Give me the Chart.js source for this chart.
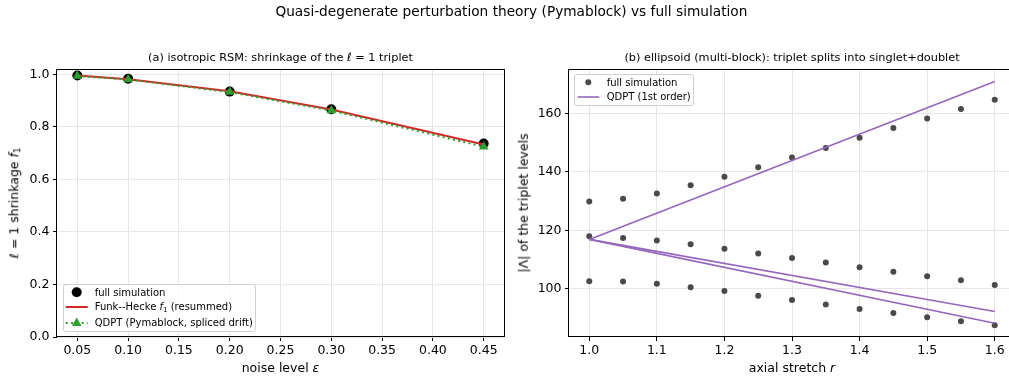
<!DOCTYPE html>
<html><head><meta charset="utf-8">
<script src="https://cdn.jsdelivr.net/npm/chart.js@4.4.0/dist/chart.umd.min.js"></script>
<style>
html,body{margin:0;padding:0;}
body{width:1009px;height:377px;position:relative;background:#fff;font-family:"DejaVu Sans",sans-serif;overflow:hidden;}
.t{position:absolute;white-space:nowrap;color:#000;line-height:1;}
.c{transform:translateX(-50%);}
.yl{transform:translate(-50%,-50%) rotate(-90deg);}
.leg{position:absolute;border:1px solid #cfcfcf;border-radius:3px;background:rgba(255,255,255,0.8);box-sizing:border-box;}
.lt{position:absolute;white-space:nowrap;font-size:10px;line-height:10px;color:#000;}
svg{position:absolute;left:0;top:0;overflow:visible;}
canvas{position:absolute;}
</style></head><body>
<canvas id="c1" width="510" height="377" style="left:0;top:0"></canvas>
<canvas id="c2" width="520" height="377" style="left:510px;top:0"></canvas>

<div class="t c" style="left:511.4px;top:5px;font-size:13.7px;">Quasi-degenerate perturbation theory (Pymablock) vs full simulation</div>
<div class="t c" style="left:280.5px;top:52px;font-size:11.3px;">(a) isotropic RSM: shrinkage of the <i>ℓ</i> = 1 triplet</div>
<div class="t c" style="left:792px;top:52px;font-size:11.3px;">(b) ellipsoid (multi-block): triplet splits into singlet+doublet</div>
<div class="t c" style="left:280.5px;top:361.5px;font-size:12.5px;">noise level <i>ε</i></div>
<div class="t c" style="left:792px;top:361.5px;font-size:12.5px;">axial stretch <i>r</i></div>
<div class="t yl" style="left:15px;top:203px;font-size:12.5px;"><i>ℓ</i> = 1 shrinkage <i>f</i><sub style="font-size:8.5px;vertical-align:-2px">1</sub></div>
<div class="t yl" style="left:524px;top:203px;font-size:12.5px;">|Λ| of the triplet levels</div>

<div class="leg" style="left:62.7px;top:284px;width:193.3px;height:48px;"></div>
<svg width="1009" height="377">
  <circle cx="76.7" cy="292.3" r="5" fill="#000"/>
  <line x1="65.7" y1="307" x2="87.7" y2="307" stroke="#d62728" stroke-width="2"/>
  <line x1="65.7" y1="323" x2="87.7" y2="323" stroke="#2ca02c" stroke-width="2" stroke-dasharray="2,3.3"/>
  <polygon points="76.7,317.5 81.5,326 71.9,326" fill="#2ca02c"/>
</svg>
<div class="lt" style="left:94.7px;top:287.5px;">full simulation</div>
<div class="lt" style="left:94.7px;top:302px;">Funk--Hecke <i>f</i><sub style="font-size:7px;vertical-align:-2px">1</sub> (resummed)</div>
<div class="lt" style="left:94.7px;top:318px;">QDPT (Pymablock, spliced drift)</div>

<div class="leg" style="left:574.3px;top:74.3px;width:119.7px;height:32px;"></div>
<svg width="1009" height="377">
  <circle cx="588.3" cy="82.3" r="3" fill="#4a4a4a"/>
  <line x1="577.7" y1="97" x2="599.3" y2="97" stroke="#9467bd" stroke-width="1.6"/>
</svg>
<div class="lt" style="left:606.7px;top:77.5px;">full simulation</div>
<div class="lt" style="left:606.7px;top:92px;">QDPT (1st order)</div>

<script>
// ---- panel (a) data ----
const noiseLevels = [0.05, 0.10, 0.20, 0.30, 0.45];
const shrinkSim = [0.995, 0.983, 0.934, 0.867, 0.736];
const shrinkFunkHecke = [0.995, 0.981, 0.935, 0.866, 0.733];
const shrinkQdpt = [0.993, 0.980, 0.932, 0.862, 0.724];
const xTicksA = [0.05, 0.10, 0.15, 0.20, 0.25, 0.30, 0.35, 0.40, 0.45];
const yTicksA = [0.0, 0.2, 0.4, 0.6, 0.8, 1.0];

// ---- panel (b) data ----
const stretch = [1.00, 1.05, 1.10, 1.15, 1.20, 1.25, 1.30, 1.35, 1.40, 1.45, 1.50, 1.55, 1.60];
const simUpper = [129.9, 130.8, 132.6, 135.4, 138.3, 141.6, 144.9, 148.2, 151.7, 155.0, 158.3, 161.5, 164.7];
const simMiddle = [118.0, 117.4, 116.5, 115.2, 113.7, 112.1, 110.5, 109.0, 107.4, 105.8, 104.3, 102.9, 101.3];
const simLower = [102.6, 102.5, 101.7, 100.5, 99.2, 97.6, 96.2, 94.6, 93.1, 91.7, 90.3, 88.9, 87.5];
const qdptStretch = [1.0, 1.6];
const qdptSinglet = [116.9, 170.95];
const qdptDoubletA = [116.9, 92.2];
const qdptDoubletB = [116.9, 88.2];
const xTicksB = [1.0, 1.1, 1.2, 1.3, 1.4, 1.5, 1.6];
const yTicksB = [100, 120, 140, 160];

const pts = (xs, ys) => xs.map((x, i) => ({x: x, y: ys[i]}));

const framePlugin = {
  id: 'frame',
  beforeDatasetsDraw(chart) {
    const {ctx, chartArea: a} = chart;
    ctx.save();
    ctx.strokeStyle = '#000';
    ctx.lineWidth = 1;
    ctx.strokeRect(Math.round(a.left) - 0.5, Math.round(a.top) + 0.5,
                   Math.round(a.right - a.left) + 1, Math.round(a.bottom - a.top) - 1);
    ctx.restore();
  }
};

const tickFont = {family: 'DejaVu Sans', size: 12.5};
function axis(min, max, ticks, fmt, isX, fit) {
  return {
    type: 'linear', min: min, max: max,
    afterBuildTicks: s => { s.ticks = ticks.map(v => ({value: v})); },
    afterFit: s => { if (isX) s.height = fit; else s.width = fit; },
    ticks: {callback: v => fmt(v), font: tickFont, color: '#000', padding: isX ? 2 : 3.5,
            autoSkip: false, maxRotation: 0, minRotation: 0},
    grid: {color: '#e6e6e6', lineWidth: 1, tickColor: '#000', tickLength: 4, tickWidth: 1, drawTicks: true},
    border: {display: false}
  };
}

const common = {
  responsive: false, animation: false, devicePixelRatio: 1,
  plugins: {legend: {display: false}, tooltip: {enabled: false}, title: {display: false}},
};

new Chart(document.getElementById('c1'), {
  type: 'scatter',
  data: {datasets: [
    {data: pts(noiseLevels, shrinkSim), showLine: false, pointRadius: 5, pointBackgroundColor: '#000',
     pointBorderWidth: 0, order: 3},
    {data: pts(noiseLevels, shrinkFunkHecke), showLine: true, borderColor: '#d62728', borderWidth: 2,
     pointRadius: 0, tension: 0, order: 2},
    {data: pts(noiseLevels, shrinkQdpt), showLine: true, borderColor: '#2ca02c', borderWidth: 2,
     borderDash: [2, 3.3], pointStyle: 'triangle', pointRadius: 5.5, pointBackgroundColor: '#2ca02c',
     pointBorderWidth: 0, tension: 0, order: 1}
  ]},
  options: Object.assign({}, common, {
    layout: {padding: {left: 0, right: 6, top: 69, bottom: 0}},
    scales: {
      x: axis(0.03, 0.47, xTicksA, v => v.toFixed(2), true, 40),
      y: axis(0, 1.02, yTicksA, v => v.toFixed(1), false, 57)
    }
  }),
  plugins: [framePlugin]
});

const grey = '#4a4a4a', purple = '#9467bd';
new Chart(document.getElementById('c2'), {
  type: 'scatter',
  data: {datasets: [
    {data: pts(qdptStretch, qdptSinglet), showLine: true, borderColor: purple, borderWidth: 1.6, pointRadius: 0, order: 2},
    {data: pts(qdptStretch, qdptDoubletA), showLine: true, borderColor: purple, borderWidth: 1.6, pointRadius: 0, order: 2},
    {data: pts(qdptStretch, qdptDoubletB), showLine: true, borderColor: purple, borderWidth: 1.6, pointRadius: 0, order: 2},
    {data: pts(stretch, simUpper), showLine: false, pointRadius: 3, pointBackgroundColor: grey, pointBorderWidth: 0, order: 3},
    {data: pts(stretch, simMiddle), showLine: false, pointRadius: 3, pointBackgroundColor: grey, pointBorderWidth: 0, order: 3},
    {data: pts(stretch, simLower), showLine: false, pointRadius: 3, pointBackgroundColor: grey, pointBorderWidth: 0, order: 3}
  ]},
  options: Object.assign({}, common, {
    layout: {padding: {left: 0, right: 15, top: 69, bottom: 0}},
    scales: {
      x: axis(0.97, 1.63, xTicksB, v => v.toFixed(1), true, 40),
      y: axis(83.5, 175.2, yTicksB, v => String(Math.round(v)), false, 59)
    }
  }),
  plugins: [framePlugin]
});
</script>
</body></html>
